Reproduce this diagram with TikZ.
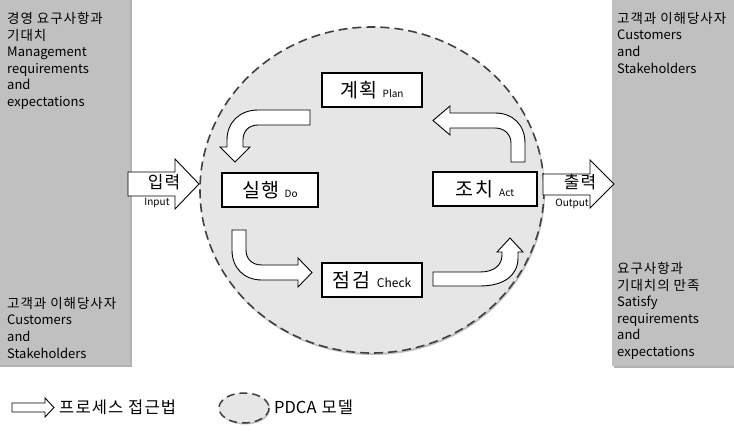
\documentclass[tikz,border=0pt]{standalone}
\usepackage{fontspec}
\setmainfont{Noto Sans CJK KR}
\newfontfamily\kfont[LetterSpace=7]{Noto Sans CJK KR}
\usetikzlibrary{shadows}
\definecolor{boxgray}{HTML}{C0C0C0}
\definecolor{circgray}{HTML}{E6E6E6}
\newcommand{\kl}[1]{{\kfont\fontsize{13.5}{16.6}\selectfont #1}}
\newcommand{\stagelabel}[3]{{\kfont\fontsize{19.5}{21}\selectfont #1}\hspace{#3}{\fontsize{10}{12}\selectfont #2}}
\begin{document}
\begin{tikzpicture}[x=1pt,y=-1pt,
  sidebox/.style={fill=boxgray, draw=none, drop shadow={shadow xshift=1.5pt, shadow yshift=-2pt, opacity=0.6}},
  sidetext/.style={anchor=north west, inner sep=0pt, align=left, font=\fontsize{13}{16.6}\selectfont},
  stagebox/.style={draw=black, fill=white, line width=1.1pt, minimum width=100pt, minimum height=34pt, inner sep=0pt},
  blockarrow/.style={draw=black, fill=white, line width=0.9pt, line join=miter},
  iotext/.style={inner sep=0pt, font=\kfont\fontsize{17}{19}\selectfont},
  iosmall/.style={inner sep=0pt, font=\fontsize{10}{12}\selectfont},
  legendtext/.style={inner sep=0pt, anchor=west, font=\kfont\fontsize{16.5}{19}\selectfont}]
\useasboundingbox (0,0) rectangle (734,434);
\fill[white] (0,0) rectangle (734,434);

% side boxes
\path[sidebox] (-2,-2) rectangle (130,365);
\path[sidebox] (612,-2) rectangle (736,366);

% circle
\path[fill=circgray, drop shadow={shadow xshift=1pt, shadow yshift=-2pt, opacity=0.5}] (372,190) ellipse [x radius=172, y radius=163];
\draw[black!75, line width=1.6pt, dash pattern=on 9pt off 5pt] (372,190) ellipse [x radius=172, y radius=163];

% side texts
\node[sidetext] (lt) at (7,12) {\kl{경영 요구사항과}\\\kl{기대치}\\Management\\requirements\\and\\expectations};
\node[sidetext] (lb) at (7,297) {\kl{고객과 이해당사자}\\Customers\\and\\Stakeholders};
\node[sidetext] (rt) at (617,12) {\kl{고객과 이해당사자}\\Customers\\and\\Stakeholders};
\node[sidetext] (rb) at (617,262) {\kl{요구사항과}\\\kl{기대치의 만족}\\Satisfy\\requirements\\and\\expectations};

% stage boxes
\node[stagebox] (plan) at (372,90) {\stagelabel{계획}{Plan}{5pt}};
\node[stagebox, minimum width=96pt] (do) at (270,190) {\stagelabel{실행}{Do}{5pt}};
\node[stagebox, minimum width=104pt] (act) at (485,189) {\stagelabel{조치}{Act}{6pt}};
\node[stagebox] (check) at (372,280) {{\kfont\fontsize{19.5}{21}\selectfont 점검}\hspace{7pt}{\fontsize{12}{14}\selectfont Check}};

% curved block arrows
\path[blockarrow] (310,110) -- (258,110) .. controls (240,110) and (227,122) .. (227,140) -- (227,147) -- (220,147) -- (235,162) -- (250,147) -- (243,147) -- (243,140) .. controls (243,131) and (249,125) .. (258,125) -- (310,125) -- cycle;
\path[blockarrow] (232,230) -- (232,250) .. controls (232,268) and (244,280) .. (262,280) -- (298,280) -- (298,287) -- (312,272.5) -- (298,258) -- (298,265) -- (262,265) .. controls (252,265) and (246,259) .. (246,250) -- (246,230) -- cycle;
\path[blockarrow] (433,272) -- (480,272) .. controls (493,272) and (502,266) .. (502,255) -- (502,252) -- (497,252) -- (510,238) -- (523,252) -- (518,252) -- (518,258) .. controls (518,276) and (503,286) .. (480,286) -- (433,286) -- cycle;
\path[blockarrow] (525,162) -- (525,143) .. controls (525,125) and (513,113) .. (495,113) -- (450,113) -- (450,106) -- (433,120.5) -- (450,135) -- (450,128) -- (495,128) .. controls (504,128) and (511,134) .. (511,143) -- (511,162) -- cycle;

% input / output arrows
\path[blockarrow] (128,172) -- (175,172) -- (175,159) -- (199,184) -- (175,209) -- (175,196) -- (128,196) -- cycle;
\node[iotext] (inK) at (164,182) {입력};
\node[iosmall] (inE) at (157,203) {Input};
\path[blockarrow] (543,174) -- (590,174) -- (590,160) -- (614,184) -- (590,208) -- (590,195) -- (543,195) -- cycle;
\node[iotext] (outK) at (580,182) {출력};
\node[iosmall] (outE) at (572,204) {Output};

% legend
\path[blockarrow] (12,403) -- (45,403) -- (45,398) -- (54,407.5) -- (45,417) -- (45,412) -- (12,412) -- cycle;
\node[legendtext] (lg1) at (59,407) {프로세스 접근법};
\path[fill=circgray, drop shadow={shadow xshift=1pt, shadow yshift=-1.5pt, opacity=0.5}] (244,408) ellipse [x radius=25, y radius=15];
\draw[black!75, line width=1.5pt, dash pattern=on 8pt off 5pt] (244,408) ellipse [x radius=25, y radius=15];
\node[legendtext] (lg2) at (274,407) {{\normalfont\fontsize{16.5}{19}\selectfont PDCA}\hspace{5pt}모델};
\end{tikzpicture}
\end{document}
